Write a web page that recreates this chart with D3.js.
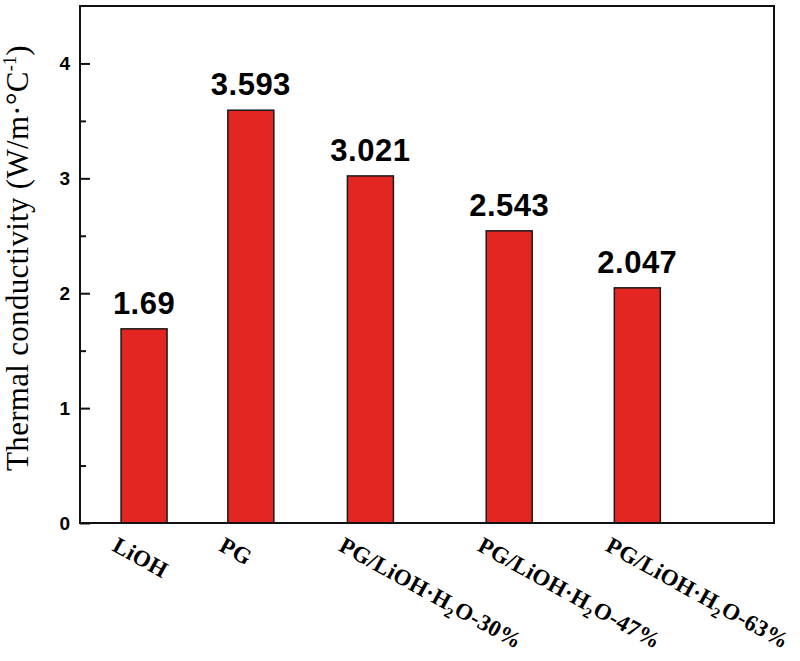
<!DOCTYPE html>
<html>
<head>
<meta charset="utf-8">
<script src="https://cdn.jsdelivr.net/npm/d3@7"></script>
<style>
  body { margin: 0; background: #fff; }
  svg { display: block; }
  .frame { fill: none; stroke: #111; stroke-width: 2px; }
  .bar { fill: #e32622; stroke: #1a1a1a; stroke-width: 1.5px; }
  .value { font-family: "Liberation Sans", Arial, sans-serif; font-weight: bold; font-size: 31px; letter-spacing: 0.5px; text-anchor: middle; fill: #000; }
  .cat { font-family: "Liberation Serif", "Times New Roman", serif; font-weight: bold; font-size: 23px; letter-spacing: 0.3px; fill: #000; }
  .ytitle { font-family: "Liberation Serif", "Times New Roman", serif; font-size: 31px; letter-spacing: 0.3px; text-anchor: middle; fill: #000; }
  .axis path { display: none; }
  .axis line { stroke: #111; stroke-width: 2px; }
  .axis text { font-family: "Liberation Sans", Arial, sans-serif; font-weight: bold; font-size: 19px; fill: #000; }
</style>
</head>
<body>
<div id="chart"></div>
<script>
const categories = ["LiOH", "PG", "PG/LiOH·H2O-30%", "PG/LiOH·H2O-47%", "PG/LiOH·H2O-63%"];
const values = [1.69, 3.593, 3.021, 2.543, 2.047];
// bars are not evenly spaced in the source figure
const slots = [1, 2, 3.12, 4.42, 5.62];
const yTicks = [0, 1, 2, 3, 4];
const yMinorTicks = [0.5, 1.5, 2.5, 3.5];

const width = 800;
const height = 661;
const plot = { left: 80, right: 774, top: 6, bottom: 523 };
const barWidth = 46;

const svg = d3
  .select("#chart")
  .append("svg")
  .attr("width", width)
  .attr("height", height);

const x = d3.scaleLinear().domain([0.4, 6.9]).range([plot.left, plot.right]);
const y = d3.scaleLinear().domain([0, 4.5]).range([plot.bottom, plot.top]);

const data = categories.map((c, i) => ({ cat: c, value: values[i], slot: slots[i] }));

// bars
svg
  .append("g")
  .selectAll(".bar")
  .data(data)
  .enter()
  .append("rect")
  .attr("class", "bar")
  .attr("x", (d) => x(d.slot) - barWidth / 2)
  .attr("y", (d) => y(d.value))
  .attr("width", barWidth)
  .attr("height", (d) => y(0) - y(d.value));

// value labels
svg
  .append("g")
  .selectAll(".value")
  .data(data)
  .enter()
  .append("text")
  .attr("class", "value")
  .attr("x", (d) => x(d.slot))
  .attr("y", (d) => y(d.value) - 15)
  .text((d) => String(d.value));

// y axis, ticks point inward
svg
  .append("g")
  .attr("class", "axis")
  .attr("transform", `translate(${plot.left},0)`)
  .call(d3.axisLeft(y).tickValues(yTicks).tickSize(-10).tickPadding(10).tickFormat(d3.format("d")));

svg
  .append("g")
  .attr("class", "axis")
  .attr("transform", `translate(${plot.left},0)`)
  .call(d3.axisLeft(y).tickValues(yMinorTicks).tickSize(-6).tickFormat(""));

// frame
svg
  .append("rect")
  .attr("class", "frame")
  .attr("x", plot.left)
  .attr("y", plot.top)
  .attr("width", plot.right - plot.left)
  .attr("height", plot.bottom - plot.top);

// category labels, rotated, with H2O subscript
function writeLabel(d) {
  const el = d3.select(this);
  const parts = d.cat.split(/H2O/);
  el.append("tspan").text(parts[0]);
  if (parts.length > 1) {
    el.append("tspan").text("H");
    el.append("tspan").attr("font-size", "15px").attr("dy", 6).text("2");
    el.append("tspan").attr("dy", -6).text("O" + parts[1]);
  }
}

svg
  .append("g")
  .selectAll(".cat")
  .data(data)
  .enter()
  .append("text")
  .attr("class", "cat")
  .attr("transform", (d) => `translate(${x(d.slot) - barWidth / 2 - 10},${plot.bottom + 27}) rotate(29)`)
  .each(writeLabel);

// y title
const title = svg
  .append("text")
  .attr("class", "ytitle")
  .attr("transform", `translate(28,258) rotate(-90)`);
title.append("tspan").text("Thermal conductivity (W/m·°C");
title.append("tspan").attr("font-size", "18px").attr("dy", -12).text("-1");
title.append("tspan").attr("dy", 12).text(")");
</script>
</body>
</html>
